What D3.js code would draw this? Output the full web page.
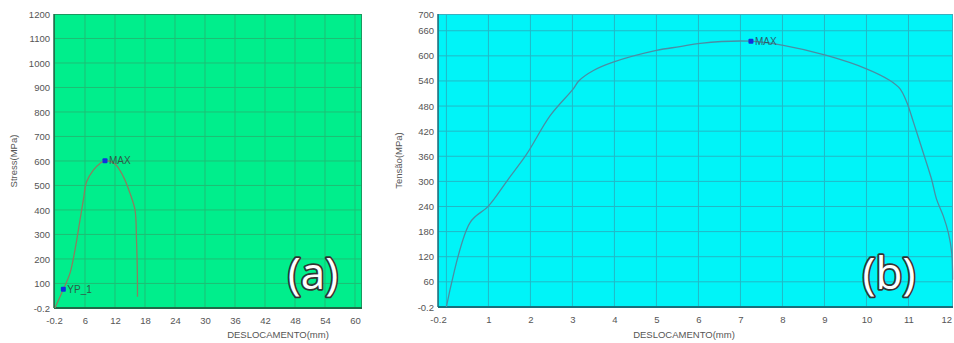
<!DOCTYPE html>
<html><head><meta charset="utf-8">
<script src="https://cdn.jsdelivr.net/npm/d3@7"></script>
<style>body{margin:0;background:#fff;}svg{display:block;}</style>
</head><body>
<svg id="c" width="954" height="343"></svg>
<script>
// ---- Data: chart (a) ----
const aX = [0, 1.67, 3.0, 4.0, 5.0, 5.67, 6.33, 7.67, 9.0, 10.0, 12.0, 13.67, 15.0, 16.0, 16.3, 16.47, 16.5];
const aY = [0, 76, 142, 237, 359, 441, 516, 563, 590, 601, 588, 536, 468, 400, 278, 142, 46];
const aXTicks = [-0.2, 6, 12, 18, 24, 30, 36, 42, 48, 54, 60];
const aYTicks = [-0.2, 100, 200, 300, 400, 500, 600, 700, 800, 900, 1000, 1100, 1200];
const aMarkLabels = ["YP_1", "MAX"];
const aMarkX = [1.67, 10.0];
const aMarkY = [76, 601];

// ---- Data: chart (b) ----
const bX = [0, 0.56, 1.0, 1.47, 1.91, 2.47, 3.02, 3.15, 3.5, 3.97, 5.0, 5.56, 6.04, 7.25, 8.02, 9.05, 10.0, 10.56, 10.80, 10.96, 11.12, 11.35, 11.55, 11.67, 11.83, 11.95, 12.03, 12.05];
const bY = [0, 201, 241, 305, 365, 457, 521, 540, 565, 585, 613, 622, 630, 635, 625, 601, 569, 541, 521, 489, 441, 369, 305, 257, 217, 177, 129, 65];
const bXTicks = [-0.2, 1, 2, 3, 4, 5, 6, 7, 8, 9, 10, 11, 12];
const bYTicks = [-0.2, 60, 120, 180, 240, 300, 360, 420, 480, 540, 600, 660, 700];
const bMarkLabels = ["MAX"];
const bMarkX = [7.25];
const bMarkY = [635];

const svg = d3.select("#c");
const font = "Liberation Sans, Arial, sans-serif";

function panel(cfg) {
  const x = d3.scaleLinear().domain(cfg.xDomain).range([cfg.left, cfg.right]);
  const y = d3.scaleLinear().domain(cfg.yDomain).range([cfg.bottom, cfg.top]);
  const g = svg.append("g");
  g.append("rect").attr("x", cfg.left).attr("y", cfg.top)
    .attr("width", cfg.right - cfg.left).attr("height", cfg.bottom - cfg.top)
    .attr("fill", cfg.bg);
  // grid
  g.selectAll(".gx").data(cfg.xGrid).join("line")
    .attr("x1", d => x(d)).attr("x2", d => x(d))
    .attr("y1", cfg.top).attr("y2", cfg.bottom)
    .attr("stroke", cfg.grid).attr("stroke-width", 1);
  g.selectAll(".gy").data(cfg.yGrid).join("line")
    .attr("y1", d => y(d)).attr("y2", d => y(d))
    .attr("x1", cfg.left).attr("x2", cfg.right)
    .attr("stroke", cfg.grid).attr("stroke-width", 1);
  // border
  g.append("rect").attr("x", cfg.left + 0.5).attr("y", cfg.top + 0.5)
    .attr("width", cfg.right - cfg.left - 1).attr("height", cfg.bottom - cfg.top - 1)
    .attr("fill", "none").attr("stroke", cfg.border).attr("stroke-width", 1);
  g.append("line").attr("x1", cfg.left).attr("x2", cfg.right)
    .attr("y1", cfg.bottom).attr("y2", cfg.bottom)
    .attr("stroke", cfg.axis).attr("stroke-width", 2);
  g.append("line").attr("x1", cfg.left).attr("x2", cfg.left)
    .attr("y1", cfg.top).attr("y2", cfg.bottom)
    .attr("stroke", cfg.axis).attr("stroke-width", 1.5);
  // axes
  const xa = g.append("g").attr("transform", `translate(0,${cfg.bottom})`)
    .call(d3.axisBottom(x).tickValues(cfg.xTicks).tickSize(0).tickPadding(9)
      .tickFormat(d => String(d)));
  xa.select(".domain").remove();
  xa.selectAll("text").attr("font-family", font).attr("font-size", 9.5).attr("fill", "#555");
  if (cfg.lastTickEnd) {
    xa.selectAll(".tick").filter((d, i, n) => i === n.length - 1)
      .select("text").attr("text-anchor", "end").attr("dx", "1");
  }
  const ya = g.append("g").attr("transform", `translate(${cfg.left},0)`)
    .call(d3.axisLeft(y).tickValues(cfg.yTicks).tickSize(0).tickPadding(4)
      .tickFormat(d => String(d)));
  ya.select(".domain").remove();
  ya.selectAll("text").attr("font-family", font).attr("font-size", 9.5).attr("fill", "#555");
  // titles
  g.append("text").attr("x", cfg.xTitleX).attr("y", 338)
    .attr("text-anchor", "middle").attr("font-family", font).attr("font-size", 9.5)
    .attr("fill", "#555").text("DESLOCAMENTO(mm)");
  g.append("text").attr("transform", `translate(${cfg.yTitleX},${(cfg.top + cfg.bottom) / 2}) rotate(-90)`)
    .attr("text-anchor", "middle").attr("font-family", font).attr("font-size", 9.5)
    .attr("fill", "#555").text(cfg.yTitle);
  // curve
  const pts = cfg.xs.map((v, i) => [v, cfg.ys[i]]);
  g.append("path").datum(pts)
    .attr("d", d3.line().x(d => x(d[0])).y(d => y(d[1])).curve(d3.curveCatmullRom.alpha(0.5)))
    .attr("fill", "none").attr("stroke", cfg.lineColor).attr("stroke-width", 1.3);
  // markers
  cfg.mx.forEach((mx, i) => {
    g.append("rect").attr("x", x(mx) - 2.5).attr("y", y(cfg.my[i]) - 2.5)
      .attr("width", 5).attr("height", 5).attr("rx", 1).attr("fill", "#1030e0");
    g.append("text").attr("x", x(mx) + 4).attr("y", y(cfg.my[i]) + 3.5)
      .attr("font-family", font).attr("font-size", 10).attr("fill", cfg.markText)
      .text(cfg.ml[i]);
  });
  // big panel label
  g.append("text").attr("x", cfg.bigX).attr("y", cfg.bigY)
    .attr("text-anchor", "middle").attr("font-family", "Open Sans, sans-serif")
    .attr("font-size", 44).attr("fill", "#fff")
    .attr("stroke", "#333").attr("stroke-width", 3.5).attr("paint-order", "stroke")
    .attr("stroke-linejoin", "round")
    .text(cfg.big);
}

panel({
  left: 54, right: 362, top: 14, bottom: 308,
  xDomain: [-0.2, 61.4], yDomain: [-0.2, 1200],
  xTicks: aXTicks, yTicks: aYTicks,
  xGrid: aXTicks.slice(1), yGrid: aYTicks.slice(1, -1),
  bg: "#00ee8c", grid: "#1dbf75", border: "#1a9a60", axis: "#1f6a48",
  lineColor: "#8a8060", markText: "#2e5a48",
  xs: aX, ys: aY, mx: aMarkX, my: aMarkY, ml: aMarkLabels,
  xTitleX: 278, yTitleX: 17, yTitle: "Stress(MPa)",
  big: "(a)", bigX: 313, bigY: 289
});

panel({
  left: 438, right: 953, top: 14, bottom: 307,
  xDomain: [-0.2, 12.06], yDomain: [-0.2, 700],
  xTicks: bXTicks, yTicks: bYTicks,
  xGrid: [0].concat(bXTicks.slice(1, -1)), yGrid: bYTicks.slice(1, -1),
  bg: "#00f4f8", grid: "#22b8c6", border: "#3ab0c0", axis: "#17707c",
  lineColor: "#4a8ea4", markText: "#2a5f6c", lastTickEnd: true,
  xs: bX, ys: bY, mx: bMarkX, my: bMarkY, ml: bMarkLabels,
  xTitleX: 684, yTitleX: 402, yTitle: "Tensão(MPa)",
  big: "(b)", bigX: 889, bigY: 289
});
</script>
</body></html>
